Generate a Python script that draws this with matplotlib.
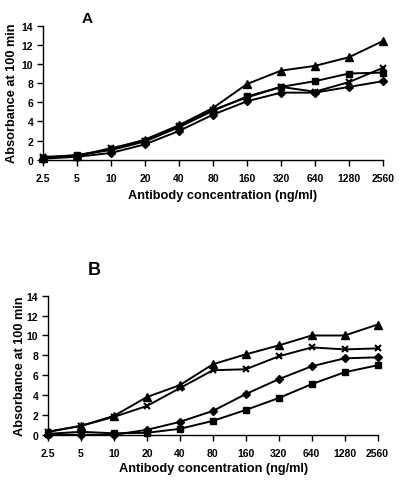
import matplotlib
matplotlib.use("Agg")
import matplotlib.pyplot as plt

plt.rcParams['font.family'] = ['Liberation Sans', 'DejaVu Sans']
plt.rcParams['font.weight'] = 'bold'

concentrations = ["2.5", "5", "10", "20", "40", "80", "160", "320", "640", "1280", "2560"]

a_triangle = [0.2, 0.4, 1.1, 2.1, 3.6, 5.4, 7.9, 9.3, 9.8, 10.7, 12.4]
a_square = [0.2, 0.5, 1.0, 1.9, 3.4, 5.1, 6.6, 7.6, 8.2, 9.0, 9.1]
a_cross = [0.3, 0.4, 1.2, 2.0, 3.5, 5.2, 6.5, 7.6, 7.1, 8.1, 9.6]
a_diamond = [0.1, 0.3, 0.7, 1.6, 3.0, 4.7, 6.1, 7.0, 7.0, 7.6, 8.2]

b_triangle = [0.3, 0.9, 1.9, 3.8, 5.0, 7.1, 8.1, 9.0, 10.0, 10.0, 11.1]
b_cross = [0.3, 0.9, 1.8, 2.9, 4.7, 6.5, 6.6, 7.9, 8.8, 8.6, 8.7]
b_diamond = [0.0, 0.0, 0.0, 0.5, 1.3, 2.4, 4.1, 5.6, 6.9, 7.7, 7.8]
b_square = [0.1, 0.3, 0.15, 0.2, 0.6, 1.4, 2.5, 3.7, 5.1, 6.3, 7.0]

fig = plt.figure(figsize=(4.0, 4.81), dpi=100)

def panel(rect, label, label_xy, label_size, xlab_xy, ylab_x, series):
    ax = fig.add_axes(rect)
    x = list(range(len(concentrations)))
    for ys, m, ms in series:
        if m == 'x':
            ax.plot(x, ys, color='black', lw=1.4, marker='x', ms=5, mew=1.5, clip_on=False)
        else:
            ax.plot(x, ys, color='black', lw=1.4, marker=m, ms=ms, mfc='black', mec='black', clip_on=False)
    ax.set_xlim(0, len(concentrations) - 1)
    ax.set_ylim(0, 14)
    ax.set_yticks(range(0, 15, 2))
    ax.set_xticks(x)
    ax.set_xticklabels(concentrations)
    for s in ['top', 'right']:
        ax.spines[s].set_visible(False)
    ax.spines['left'].set_linewidth(1.0)
    ax.spines['bottom'].set_linewidth(1.0)
    ax.tick_params(axis='both', direction='out', length=4, width=1.0, labelsize=7.5)
    ax.tick_params(axis='x', pad=5.5)
    ax.tick_params(axis='y', pad=3)
    ax.text(xlab_xy[0], xlab_xy[1], "Antibody concentration (ng/ml)", transform=ax.transAxes,
            fontsize=9.2, fontweight='bold', ha='center', va='baseline')
    ax.text(ylab_x, 0.5, "Absorbance at 100 min", transform=ax.transAxes, rotation=90,
            fontsize=9.2, fontweight='bold', ha='center', va='center')
    ax.text(label_xy[0], label_xy[1], label, transform=ax.transAxes, fontsize=label_size,
            fontweight='bold', ha='left', va='baseline')
    return ax

panel([0.1075, 0.666, 0.85, 0.2786], "A", (0.115, 1.028), 11, (0.528, -0.286), -0.091,
      [(a_square, 's', 4.2), (a_cross, 'x', 5), (a_diamond, 'D', 4), (a_triangle, '^', 5.2)])
panel([0.12, 0.094, 0.824, 0.289], "B", (0.121, 1.156), 13, (0.503, -0.261), -0.085,
      [(b_square, 's', 4.2), (b_cross, 'x', 5), (b_diamond, 'D', 4), (b_triangle, '^', 5.2)])

fig.savefig("out.png", dpi=100)
